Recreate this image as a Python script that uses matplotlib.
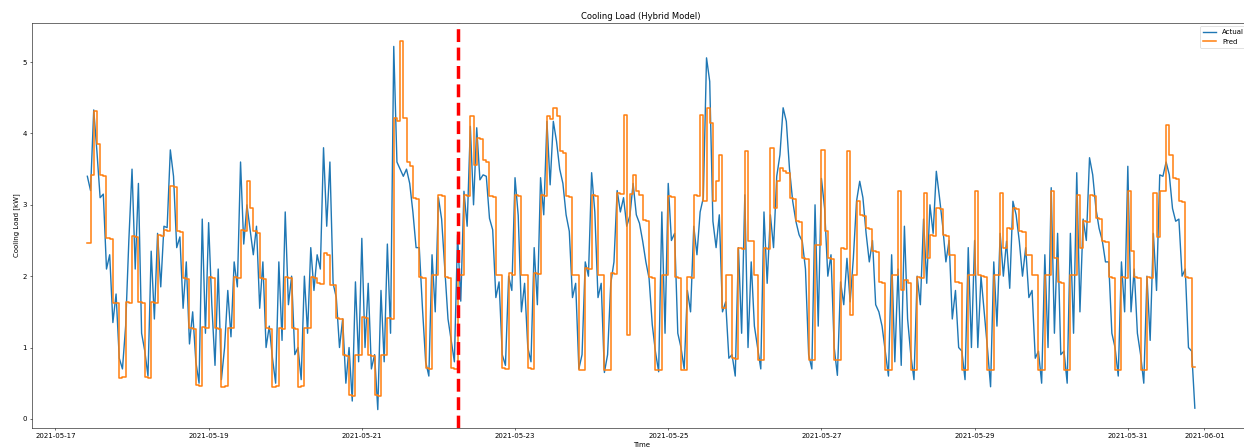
import pandas as pd
import matplotlib
matplotlib.use("Agg")
import matplotlib.pyplot as plt

# dados, um valor por hora, a partir de 2021-05-17 10:00
inicio = "2021-05-17 10:00"
corte = "2021-05-22 06:00"  # linha vermelha tracejada

actual = [
    3.40, 3.20, 4.33, 3.75, 3.10, 3.15, 2.10, 2.30, 1.35, 1.75, 0.85, 0.70, 1.30, 2.50,  # 05-17
    3.50, 2.10, 3.30, 1.20, 0.95, 0.60, 2.35, 1.40, 2.60, 1.85, 2.70, 2.68, 3.77, 3.40, 2.40, 2.55, 1.55, 2.20, 1.05, 1.50, 0.80, 0.50, 2.80, 1.20,  # 05-18
    2.75, 1.60, 0.75, 2.10, 0.55, 1.00, 1.80, 1.15, 2.20, 1.85, 3.60, 2.45, 3.00, 2.65, 2.30, 2.70, 1.55, 2.20, 1.00, 1.30, 0.85, 0.50, 2.20, 1.10,  # 05-19
    2.90, 1.60, 2.00, 0.90, 1.00, 0.55, 2.00, 1.20, 2.40, 1.80, 2.30, 2.10, 3.80, 2.70, 3.60, 1.90, 1.70, 1.00, 1.40, 0.50, 1.00, 0.25, 1.92, 0.80,  # 05-20
    2.53, 1.00, 1.90, 0.70, 0.90, 0.13, 1.80, 0.80, 2.45, 1.20, 5.22, 3.60, 3.50, 3.40, 3.50, 3.30, 2.90, 2.40, 2.40, 1.55, 0.80, 0.60, 2.30, 1.50,  # 05-21
    3.10, 2.80, 2.10, 1.40, 1.10, 0.80, 2.58, 1.65, 3.19, 2.70, 4.10, 3.00, 4.08, 3.35, 3.42, 3.40, 2.81, 2.65, 1.70, 1.92, 0.90, 0.75, 2.00, 1.80,  # 05-22
    3.38, 2.85, 1.50, 1.90, 1.00, 0.80, 2.40, 1.60, 3.38, 2.86, 4.17, 3.28, 4.17, 3.89, 3.50, 3.30, 2.86, 2.63, 1.70, 1.90, 0.70, 0.90, 2.20, 2.00,  # 05-23
    3.45, 2.90, 1.70, 1.90, 0.65, 0.90, 1.90, 2.20, 3.20, 2.90, 3.10, 2.70, 2.85, 3.30, 2.86, 2.74, 2.49, 2.20, 1.97, 1.32, 0.94, 0.66, 2.90, 1.20,  # 05-24
    3.30, 2.50, 2.60, 1.20, 1.00, 0.70, 1.80, 1.50, 2.70, 2.30, 2.90, 3.10, 5.06, 4.73, 2.77, 2.40, 2.86, 1.50, 1.64, 0.85, 0.90, 0.60, 2.40, 1.20,  # 05-25
    3.14, 1.00, 2.20, 1.30, 1.00, 0.70, 2.90, 1.90, 2.86, 2.40, 3.40, 3.70, 4.36, 4.17, 3.50, 3.05, 2.77, 2.58, 2.49, 2.10, 0.90, 0.70, 3.00, 1.30,  # 05-26
    3.37, 2.95, 2.00, 2.30, 1.00, 0.61, 1.92, 1.60, 2.25, 1.64, 2.25, 3.05, 3.33, 3.10, 2.60, 2.20, 2.50, 1.60, 1.50, 1.30, 0.95, 0.60, 2.30, 0.80,  # 05-27
    2.10, 0.75, 2.70, 1.40, 0.90, 0.55, 2.00, 1.60, 2.80, 1.90, 3.00, 2.60, 3.47, 3.10, 2.70, 2.20, 2.50, 1.40, 1.80, 1.00, 0.95, 0.55, 2.40, 1.00,  # 05-28
    2.50, 1.00, 2.00, 1.50, 1.00, 0.45, 2.20, 1.30, 2.60, 2.00, 2.49, 1.83, 3.05, 2.86, 2.49, 2.00, 2.40, 1.70, 1.80, 0.85, 0.95, 0.50, 2.30, 1.00,  # 05-29
    3.24, 1.20, 2.60, 0.90, 0.95, 0.50, 2.60, 1.20, 3.45, 1.50, 2.80, 2.50, 3.66, 3.42, 2.95, 2.67, 2.50, 2.20, 2.20, 1.20, 1.00, 0.60, 2.20, 1.50,  # 05-30
    3.54, 1.50, 2.10, 1.20, 0.90, 0.50, 2.00, 1.10, 2.60, 1.80, 3.42, 3.40, 3.60, 3.42, 2.95, 2.77, 2.80, 2.00, 2.10, 1.00, 0.95, 0.15,  # 05-31
]

pred = [
    2.47, 3.42, 4.31, 3.85, 3.42, 3.40, 2.53, 2.52, 1.62, 1.63, 0.57, 0.58, 1.64, 1.63,  # 05-17
    2.56, 2.55, 1.64, 1.62, 0.58, 0.57, 1.64, 1.63, 2.58, 2.56, 2.65, 2.64, 3.27, 3.25, 2.63, 2.62, 1.97, 1.96, 1.27, 1.26, 0.47, 0.46, 1.29, 1.28,  # 05-18
    1.99, 1.98, 1.27, 1.26, 0.45, 0.46, 1.27, 1.28, 1.99, 1.98, 2.65, 2.64, 3.33, 2.95, 2.63, 2.60, 1.97, 1.96, 1.27, 1.26, 0.45, 0.46, 1.27, 1.26,  # 05-19
    1.99, 1.98, 1.27, 1.26, 0.45, 0.46, 1.27, 1.28, 1.99, 1.98, 1.90, 1.89, 2.32, 2.30, 1.88, 1.87, 1.41, 1.40, 0.89, 0.88, 0.33, 0.32, 0.89, 0.90,  # 05-20
    1.43, 1.42, 0.89, 0.88, 0.33, 0.32, 0.89, 0.90, 1.41, 1.40, 4.22, 4.18, 5.29, 4.22, 3.60, 3.55, 3.09, 3.08, 1.99, 1.98, 0.71, 0.70, 2.02, 2.01,  # 05-21
    3.14, 3.12, 1.99, 1.98, 0.71, 0.70, 2.02, 2.01, 3.14, 3.13, 4.24, 3.56, 3.94, 3.92, 3.63, 3.60, 3.12, 3.11, 2.02, 2.01, 0.71, 0.70, 2.04, 2.02,  # 05-22
    3.14, 3.13, 2.02, 2.01, 0.71, 0.70, 2.04, 2.03, 3.14, 3.13, 4.24, 4.20, 4.36, 4.25, 3.75, 3.72, 3.12, 3.11, 2.02, 2.01, 0.68, 0.69, 2.11, 2.10,  # 05-23
    3.14, 3.13, 2.02, 2.01, 0.68, 0.69, 2.04, 2.03, 3.16, 3.15, 4.26, 1.18, 3.15, 3.42, 3.19, 3.14, 2.79, 2.78, 1.99, 1.98, 0.68, 0.69, 2.02, 2.01,  # 05-24
    3.12, 3.11, 1.99, 1.98, 0.68, 0.69, 1.99, 1.98, 3.14, 3.13, 4.26, 3.05, 4.36, 4.15, 3.05, 3.33, 3.70, 1.55, 2.02, 2.01, 0.85, 0.84, 2.39, 2.38,  # 05-25
    3.75, 2.49, 2.49, 2.02, 0.82, 0.83, 2.39, 2.38, 3.80, 2.95, 3.33, 3.52, 3.47, 3.45, 3.09, 3.08, 2.77, 2.76, 2.25, 2.24, 0.82, 0.83, 2.44, 2.43,  # 05-26
    3.77, 2.63, 2.25, 2.24, 0.82, 0.83, 2.39, 2.38, 3.75, 1.46, 2.02, 3.05, 2.86, 2.85, 2.67, 2.66, 2.35, 2.34, 1.92, 1.91, 0.68, 0.69, 2.02, 2.01,  # 05-27
    3.19, 1.80, 1.95, 1.90, 0.68, 0.69, 1.99, 1.98, 3.16, 2.25, 2.58, 2.57, 2.95, 2.94, 2.58, 2.57, 2.30, 2.29, 1.92, 1.91, 0.68, 0.69, 2.02, 2.01,  # 05-28
    3.19, 2.02, 2.00, 1.99, 0.68, 0.69, 2.02, 2.01, 3.16, 2.39, 2.67, 2.66, 2.95, 2.94, 2.63, 2.62, 2.30, 2.29, 2.02, 2.01, 0.68, 0.69, 2.02, 2.01,  # 05-29
    3.19, 2.25, 1.92, 1.91, 0.68, 0.69, 2.02, 2.01, 3.14, 2.39, 2.77, 2.76, 3.14, 3.13, 2.81, 2.80, 2.49, 2.48, 1.99, 1.98, 0.68, 0.69, 1.99, 1.98,  # 05-30
    3.19, 2.35, 1.99, 1.98, 0.68, 0.69, 1.99, 1.98, 3.16, 2.55, 3.19, 3.20, 4.12, 3.70, 3.38, 3.36, 3.05, 3.04, 1.99, 1.98, 0.73, 0.72,  # 05-31
]

tempo = pd.date_range(inicio, periods=len(actual), freq="h")
tabela = pd.DataFrame({"Actual": actual, "Pred": pred}, index=tempo)

fig = plt.figure(figsize=(24.88, 8.94), dpi=50)
ax = fig.add_axes([0.0257, 0.0425, 0.9793, 0.906])

ax.plot(tabela.index, tabela["Actual"], label="Actual", linewidth=2)
# a previsao muda em patamares, por isso o desenho em degraus
ax.plot(tabela.index, tabela["Pred"], label="Pred", linewidth=2.2, drawstyle="steps-post")
ax.axvline(pd.Timestamp(corte), color="red", linestyle="--", linewidth=5)

ax.set_title("Cooling Load (Hybrid Model)")
ax.set_xlabel("Time")
ax.set_ylabel("Cooling Load [kW]")
ax.legend(loc="upper right")

fig.savefig("out.png", dpi=50)
